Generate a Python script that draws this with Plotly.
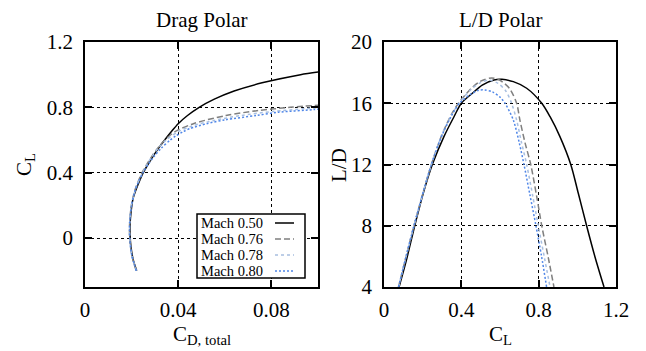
import plotly.graph_objects as go

# ---------------- data ----------------
mach_labels = ["Mach 0.50", "Mach 0.76", "Mach 0.78", "Mach 0.80"]

# Drag polar: C_L and C_D,total for each Mach number
dp_cl_050 = [-0.2, -0.15, -0.1, -0.05, 0.0, 0.05, 0.1, 0.15, 0.2, 0.25, 0.3, 0.35, 0.4, 0.45,
             0.5, 0.55, 0.6, 0.65, 0.7, 0.75, 0.8, 0.85, 0.9, 0.95, 1.0, 1.02]
dp_cd_050 = [0.0222, 0.0210, 0.0202, 0.0197, 0.0194, 0.0193, 0.0194, 0.0197, 0.0201, 0.0208,
             0.0220, 0.0234, 0.0250, 0.0270, 0.0292, 0.0316, 0.0342, 0.0370, 0.0400, 0.0440,
             0.0490, 0.0555, 0.0640, 0.0760, 0.0925, 0.1020]

dp_cl_076 = [-0.2, -0.1, 0.0, 0.05, 0.1, 0.2, 0.3, 0.4, 0.45, 0.5, 0.55, 0.6, 0.65, 0.7,
             0.75, 0.78, 0.8, 0.815]
dp_cd_076 = [0.0220, 0.0200, 0.0192, 0.0191, 0.0192, 0.0199, 0.0216, 0.0245, 0.0265, 0.0287,
             0.0312, 0.0343, 0.0385, 0.0465, 0.0605, 0.0743, 0.0880, 0.1020]

dp_cl_078 = [-0.2, -0.1, 0.0, 0.05, 0.1, 0.2, 0.3, 0.4, 0.45, 0.5, 0.55, 0.6, 0.65, 0.686,
             0.72, 0.75, 0.775, 0.80]
dp_cd_078 = [0.0220, 0.0200, 0.0192, 0.0191, 0.0192, 0.0199, 0.0217, 0.0247, 0.0266, 0.0288,
             0.0314, 0.0349, 0.0399, 0.0460, 0.0554, 0.0670, 0.0807, 0.1010]

dp_cl_080 = [-0.2, -0.1, 0.0, 0.05, 0.1, 0.2, 0.3, 0.4, 0.45, 0.5, 0.55, 0.6, 0.626, 0.65,
             0.669, 0.7, 0.724, 0.75, 0.77, 0.786, 0.79]
dp_cd_080 = [0.0220, 0.0200, 0.0192, 0.0191, 0.0192, 0.0200, 0.0217, 0.0249, 0.0271, 0.0297,
             0.0327, 0.0366, 0.0391, 0.0420, 0.0449, 0.0522, 0.0603, 0.0735, 0.0830, 0.0980,
             0.1010]

# L/D polar: C_L and L/D for each Mach number
ld_cl_050 = [0.078, 0.116, 0.159, 0.203, 0.25, 0.31, 0.362, 0.40, 0.457, 0.508, 0.569, 0.61,
             0.669, 0.738, 0.816, 0.859, 0.910, 0.966, 1.005, 1.048, 1.091, 1.138]
ld_val_050 = [4.0, 5.76, 8.0, 10.12, 12.0, 13.82, 15.12, 16.0, 16.65, 17.19, 17.52, 17.56,
              17.41, 16.98, 16.0, 15.12, 13.82, 12.0, 10.12, 8.0, 5.98, 4.0]

ld_cl_076 = [0.075, 0.155, 0.245, 0.30, 0.35, 0.385, 0.45, 0.50, 0.557, 0.60, 0.65, 0.686,
             0.703, 0.73, 0.759, 0.79, 0.816, 0.85, 0.879]
ld_val_076 = [4.0, 8.0, 12.0, 13.95, 15.3, 16.0, 16.95, 17.45, 17.65, 17.5, 16.95, 16.0,
              14.9, 13.4, 12.0, 9.9, 8.0, 5.9, 4.0]

ld_cl_078 = [0.075, 0.155, 0.245, 0.30, 0.35, 0.388, 0.45, 0.50, 0.548, 0.59, 0.63, 0.660,
             0.686, 0.71, 0.738, 0.77, 0.798, 0.83, 0.859]
ld_val_078 = [4.0, 8.0, 12.0, 13.95, 15.25, 16.0, 16.9, 17.35, 17.5, 17.3, 16.8, 16.0,
              14.9, 13.5, 12.0, 9.9, 8.0, 5.9, 4.0]

ld_cl_080 = [0.075, 0.155, 0.245, 0.30, 0.35, 0.39, 0.45, 0.49, 0.52, 0.56, 0.60, 0.626,
             0.669, 0.70, 0.724, 0.755, 0.786, 0.815, 0.841]
ld_val_080 = [4.0, 8.0, 12.0, 13.9, 15.2, 16.0, 16.6, 16.85, 16.87, 16.75, 16.4, 16.0,
              14.9, 13.4, 12.0, 10.0, 8.0, 6.0, 4.0]

dp_x_ticks = [0, 0.04, 0.08]
dp_x_text = ["0", "0.04", "0.08"]
dp_y_ticks = [0, 0.4, 0.8, 1.2]
dp_y_text = ["0", "0.4", "0.8", "1.2"]
ld_x_ticks = [0, 0.4, 0.8, 1.2]
ld_x_text = ["0", "0.4", "0.8", "1.2"]
ld_y_ticks = [4, 8, 12, 16, 20]
ld_y_text = ["4", "8", "12", "16", "20"]

# ---------------- style ----------------
FONT = "Liberation Serif, Times New Roman, serif"
styles = [
    dict(color="#000000", dash="solid", width=1.5),
    dict(color="#7f7f7f", dash="6px,3px", width=1.5),
    dict(color="#a8bfe0", dash="3px,3px", width=1.5),
    dict(color="#4f86e8", dash="2px,2px", width=1.5),
]

dp_data = [(dp_cd_050, dp_cl_050), (dp_cd_076, dp_cl_076), (dp_cd_078, dp_cl_078), (dp_cd_080, dp_cl_080)]
ld_data = [(ld_cl_050, ld_val_050), (ld_cl_076, ld_val_076), (ld_cl_078, ld_val_078), (ld_cl_080, ld_val_080)]

fig = go.Figure()
for name, st, (x, y) in zip(mach_labels, styles, dp_data):
    fig.add_trace(go.Scatter(x=x, y=y, mode="lines", name=name,
                             line=dict(shape="spline", smoothing=0.8, **st),
                             xaxis="x", yaxis="y", showlegend=False))
for name, st, (x, y) in zip(mach_labels, styles, ld_data):
    fig.add_trace(go.Scatter(x=x, y=y, mode="lines", name=name,
                             line=dict(shape="spline", smoothing=0.8, **st),
                             xaxis="x2", yaxis="y2", showlegend=False))

W, H = 646, 351
def px_x(p):
    return p / W
def px_y(p):
    return 1 - p / H

axis_common = dict(
    showline=True, linecolor="black", linewidth=1.8, mirror="allticks",
    ticks="inside", ticklen=7, tickwidth=1.5, tickcolor="black",
    showgrid=True, gridcolor="black", gridwidth=1, griddash="dot",
    zeroline=False, tickfont=dict(family=FONT, size=21, color="black"),
    automargin=False, fixedrange=True,
)

fig.update_layout(
    width=W, height=H,
    margin=dict(l=0, r=0, t=0, b=0),
    paper_bgcolor="white", plot_bgcolor="white",
    font=dict(family=FONT, color="black"),
    xaxis=dict(domain=[px_x(85), px_x(318)], range=[0, 0.1], tickvals=dp_x_ticks,
               ticktext=dp_x_text, anchor="y", ticklabelstandoff=3, **axis_common),
    yaxis=dict(domain=[px_y(287), px_y(42)], range=[-0.3, 1.2], tickvals=dp_y_ticks,
               ticktext=dp_y_text, anchor="x", ticklabelstandoff=6, **axis_common),
    xaxis2=dict(domain=[px_x(384), px_x(616)], range=[0, 1.2], tickvals=ld_x_ticks,
                ticktext=ld_x_text, anchor="y2", ticklabelstandoff=3, **axis_common),
    yaxis2=dict(domain=[px_y(287), px_y(42)], range=[4, 20], tickvals=ld_y_ticks,
                ticktext=ld_y_text, anchor="x2", ticklabelstandoff=6, **axis_common),
    showlegend=False,
)

# ---- gnuplot-style key (text left, sample right) inside the drag polar ----
key_left, key_right, key_top, key_bottom = 197, 305, 214, 278
row_centers = [223, 239, 255, 271]
shapes = [dict(type="rect", xref="paper", yref="paper",
               x0=px_x(key_left), x1=px_x(key_right), y0=px_y(key_bottom), y1=px_y(key_top),
               line=dict(color="black", width=1.5), fillcolor="white", layer="above")]
ann = []
for name, st, yc in zip(mach_labels, styles, row_centers):
    shapes.append(dict(type="line", xref="paper", yref="paper",
                       x0=px_x(275), x1=px_x(294), y0=px_y(yc), y1=px_y(yc),
                       line=dict(color=st["color"], dash=st["dash"], width=st["width"]),
                       layer="above"))
    ann.append(dict(text=name, x=px_x(199), y=px_y(yc), xanchor="left", yanchor="middle",
                    font=dict(size=14.5)))

ann += [
    dict(text="Drag Polar", x=px_x(201.5), y=px_y(20), font=dict(size=21)),
    dict(text="L/D Polar", x=px_x(500), y=px_y(20), font=dict(size=21)),
    dict(text="C<sub>D, total</sub>", x=px_x(201.5), y=px_y(350), yanchor="bottom", font=dict(size=21)),
    dict(text="C<sub>L</sub>", x=px_x(500), y=px_y(350), yanchor="bottom", font=dict(size=21)),
    dict(text="C<sub>L</sub>", x=px_x(25), y=px_y(165), font=dict(size=21), textangle=-90),
    dict(text="L/D", x=px_x(339), y=px_y(165), font=dict(size=21), textangle=-90),
]
for a in ann:
    a.setdefault("xanchor", "center")
    a.setdefault("yanchor", "middle")
    a.update(xref="paper", yref="paper", showarrow=False)
    a["font"].update(family=FONT, color="black")
fig.update_layout(annotations=ann, shapes=shapes)

fig.write_html("out.html")
